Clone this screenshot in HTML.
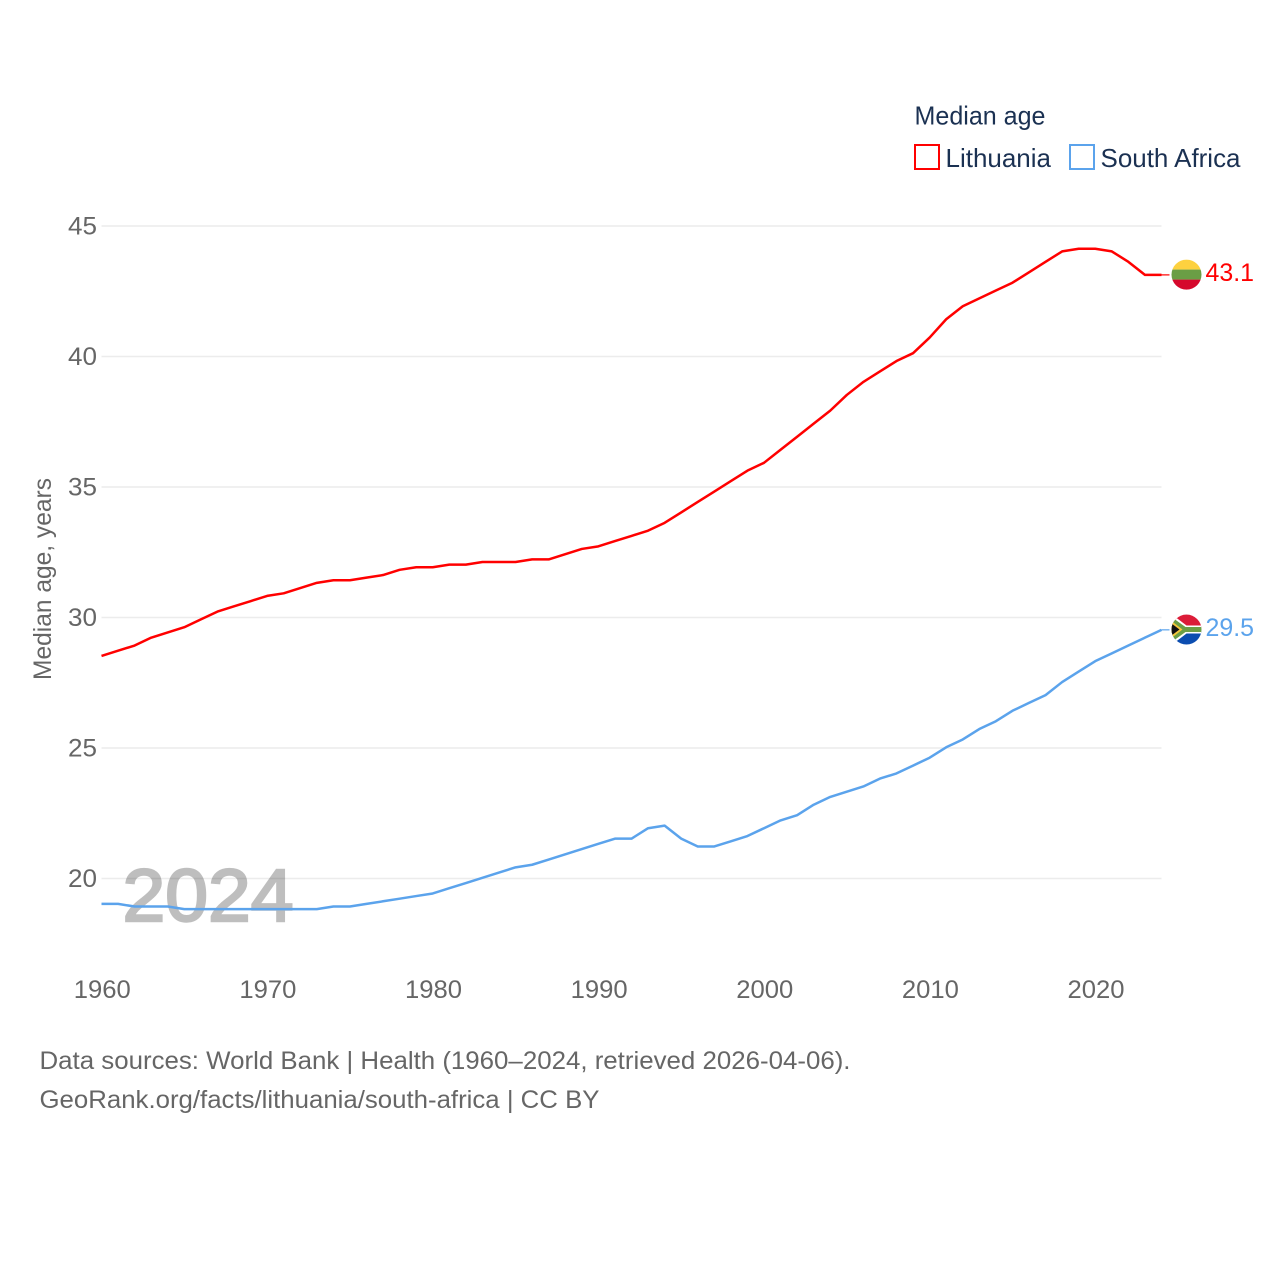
<!DOCTYPE html>
<html lang="en">
<head>
<meta charset="utf-8">
<title>Median age: Lithuania and South Africa</title>
<style>
html,body{margin:0;padding:0;background:#fff;width:1280px;height:1280px;overflow:hidden}
svg{display:block}
text{font-family:"Liberation Sans",sans-serif}
</style>
</head>
<body>
<svg id="chart" width="1280" height="1280" viewBox="0 0 1280 1280" xmlns="http://www.w3.org/2000/svg">
  <defs>
    <clipPath id="clip-circle"><circle cx="0" cy="0" r="15"/></clipPath>
  </defs>
  <g id="grid"></g>
  <g id="yticks"></g>
  <g id="xticks"></g>
  <text transform="translate(51,680) rotate(-90)" font-size="25" fill="#666" textLength="202" lengthAdjust="spacingAndGlyphs">Median age, years</text>

  <g opacity="0.25">
    <text x="122.5" y="921" font-size="74" font-weight="normal" fill="#000" stroke="#000" stroke-width="2.4" textLength="171" lengthAdjust="spacingAndGlyphs">2024</text>
  </g>

  <g id="series"></g>

  <g id="flag-lithuania">
    <g clip-path="url(#clip-circle)">
      <rect x="-15" y="-15" width="30" height="10" fill="#fdd13f"/>
      <rect x="-15" y="-5" width="30" height="10" fill="#6a9e45"/>
      <rect x="-15" y="5" width="30" height="11" fill="#d5082c"/>
    </g>
  </g>
  <g id="flag-south-africa">
    <g clip-path="url(#clip-circle)">
      <rect x="-15" y="-15" width="30" height="15" fill="#dc1c38"/>
      <rect x="-15" y="0" width="30" height="15" fill="#0b4db0"/>
      <path d="M-15,-15.5 L0,-4 H15 V4 H0 L-15,15.5 Z" fill="#fff"/>
      <path d="M-15,-12.5 L-1,-2.5 H15 V2.5 H-1 L-15,12.5 Z" fill="#6c9f45"/>
      <path d="M-15,-8.5 L-4,0 L-15,8.5 Z" fill="#f5c63c"/>
      <path d="M-15,-6 L-7,0 L-15,6 Z" fill="#111"/>
    </g>
  </g>

  <g>
    <text x="914.5" y="124.5" font-size="26" fill="#1b3152" textLength="131" lengthAdjust="spacingAndGlyphs">Median age</text>
    <g>
      <rect x="915" y="145" width="24" height="24" fill="none" stroke="#ff0000" stroke-width="2"/>
      <text x="945.5" y="167" font-size="26" fill="#1b3152" textLength="105.5" lengthAdjust="spacingAndGlyphs">Lithuania</text>
    </g>
    <g>
      <rect x="1070" y="145" width="24" height="24" fill="none" stroke="#5ba3ec" stroke-width="2"/>
      <text x="1100.5" y="167" font-size="26" fill="#1b3152" textLength="140" lengthAdjust="spacingAndGlyphs">South Africa</text>
    </g>
  </g>

  <text x="39.5" y="1069" font-size="25" fill="#666" textLength="811" lengthAdjust="spacingAndGlyphs">Data sources: World Bank | Health (1960–2024, retrieved 2026-04-06).</text>
  <text x="39.5" y="1108" font-size="25" fill="#666" textLength="560" lengthAdjust="spacingAndGlyphs">GeoRank.org/facts/lithuania/south-africa | CC BY</text>
</svg>
<script>
const years = [1960,1961,1962,1963,1964,1965,1966,1967,1968,1969,1970,1971,1972,1973,1974,1975,1976,1977,1978,1979,1980,1981,1982,1983,1984,1985,1986,1987,1988,1989,1990,1991,1992,1993,1994,1995,1996,1997,1998,1999,2000,2001,2002,2003,2004,2005,2006,2007,2008,2009,2010,2011,2012,2013,2014,2015,2016,2017,2018,2019,2020,2021,2022,2023,2024];
const lithuaniaValues = [28.5,28.7,28.9,29.2,29.4,29.6,29.9,30.2,30.4,30.6,30.8,30.9,31.1,31.3,31.4,31.4,31.5,31.6,31.8,31.9,31.9,32.0,32.0,32.1,32.1,32.1,32.2,32.2,32.4,32.6,32.7,32.9,33.1,33.3,33.6,34.0,34.4,34.8,35.2,35.6,35.9,36.4,36.9,37.4,37.9,38.5,39.0,39.4,39.8,40.1,40.7,41.4,41.9,42.2,42.5,42.8,43.2,43.6,44.0,44.1,44.1,44.0,43.6,43.1,43.1];
const southAfricaValues = [19.0,19.0,18.9,18.9,18.9,18.8,18.8,18.8,18.8,18.8,18.8,18.8,18.8,18.8,18.9,18.9,19.0,19.1,19.2,19.3,19.4,19.6,19.8,20.0,20.2,20.4,20.5,20.7,20.9,21.1,21.3,21.5,21.5,21.9,22.0,21.5,21.2,21.2,21.4,21.6,21.9,22.2,22.4,22.8,23.1,23.3,23.5,23.8,24.0,24.3,24.6,25.0,25.3,25.7,26.0,26.4,26.7,27.0,27.5,27.9,28.3,28.6,28.9,29.2,29.5];
const yTickValues = [20,25,30,35,40,45];
const xTickValues = [1960,1970,1980,1990,2000,2010,2020];

const NS = 'http://www.w3.org/2000/svg';
const xScale = function (v) { return 101.5 + (v - 1960) * (1161.5 - 101.5) / 64; };
const yScale = function (v) { return 878.5 - (v - 20) * (878.5 - 226) / 25; };
const markY = function (v) { return yScale(v) - 0.7; };

function make(tag, parent, attrs, content) {
  const el = document.createElementNS(NS, tag);
  for (const k in attrs) el.setAttribute(k, attrs[k]);
  if (content !== undefined) el.textContent = content;
  parent.appendChild(el);
  return el;
}

const gridG = document.getElementById('grid');
const yG = document.getElementById('yticks');
yTickValues.forEach(function (t) {
  const line = make('line', gridG, { x1: 101.5, x2: 1161.5, y1: yScale(t), y2: yScale(t), stroke: '#ececec', 'stroke-width': 1.5 });
  
  
  const label = make('text', yG, { x: 97, y: yScale(t) + 8.5, 'font-size': 25, fill: '#666', 'text-anchor': 'end', textLength: 29, lengthAdjust: 'spacingAndGlyphs' }, String(t));
  
  
});

const xG = document.getElementById('xticks');
xTickValues.forEach(function (t) {
  const label = make('text', xG, { x: xScale(t) + 0.8, y: 998, 'font-size': 25, fill: '#666', 'text-anchor': 'middle', textLength: 57, lengthAdjust: 'spacingAndGlyphs' }, String(t));
  
  
});

function drawSeries(values, color, key, flagId) {
  const g = make('g', document.getElementById('series'), {});
  
  
  const d = values.map(function (v, i) {
    return (i ? 'L' : 'M') + xScale(years[i]).toFixed(2) + ',' + markY(v).toFixed(2);
  }).join(' ');
  const path = make('path', g, { d: d, fill: 'none', stroke: color, 'stroke-width': 2.5, 'stroke-linejoin': 'round' });
  
  
  const last = values[values.length - 1];
  const ly = markY(last);
  const lead = make('line', g, { x1: xScale(years[years.length - 1]), x2: 1169.5, y1: ly, y2: ly, stroke: color, 'stroke-width': 1.2 });
  
  
  const val = make('text', g, { x: 1205.5, y: ly + 6, 'font-size': 25, fill: color, textLength: 48.5, lengthAdjust: 'spacingAndGlyphs' }, last.toFixed(1));
  
  
  document.getElementById(flagId).setAttribute('transform', 'translate(1186.5,' + (ly - 0.3) + ')');
}

drawSeries(lithuaniaValues, '#ff0000', 'lithuania', 'flag-lithuania');
drawSeries(southAfricaValues, '#5ba3ec', 'south-africa', 'flag-south-africa');
</script>
</body>
</html>
